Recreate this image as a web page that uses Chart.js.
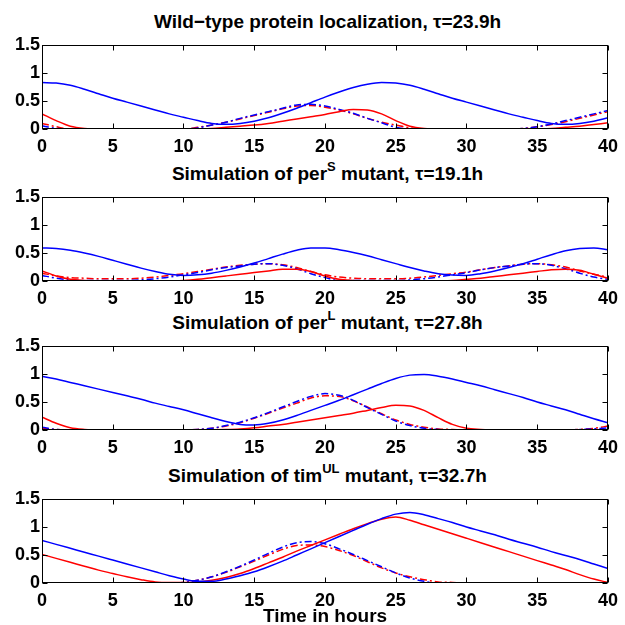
<!DOCTYPE html>
<html><head><meta charset="utf-8">
<script src="https://cdn.jsdelivr.net/npm/chart.js@4.4.1/dist/chart.umd.min.js"></script>
<style>
html,body{margin:0;padding:0;background:#fff;}
body{width:625px;height:625px;position:relative;overflow:hidden;font-family:"Liberation Sans",Arial,Helvetica,sans-serif;}
.ttl{position:absolute;left:42px;width:571px;text-align:center;font-weight:bold;font-size:19px;line-height:19px;color:#000;white-space:nowrap;}
.ttl sup{font-size:13px;line-height:0;position:relative;top:-2px;vertical-align:super;}
.box{position:absolute;left:0;width:625px;}
.box canvas{display:block;}
</style></head><body>

<div class="ttl" id="t1">Wild−type protein localization, τ=23.9h</div>
<div class="ttl" id="t2">Simulation of per<sup>S</sup> mutant, τ=19.1h</div>
<div class="ttl" id="t3">Simulation of per<sup>L</sup> mutant, τ=27.8h</div>
<div class="ttl" id="t4">Simulation of tim<sup>UL</sup> mutant, τ=32.7h</div>

<div class="box" id="b1"><canvas id="c1"></canvas></div>
<div class="box" id="b2"><canvas id="c2"></canvas></div>
<div class="box" id="b3"><canvas id="c3"></canvas></div>
<div class="box" id="b4"><canvas id="c4"></canvas></div>

<script>
// ---- data (time in hours, one value per hour) ----
const hours = [0,1,2,3,4,5,6,7,8,9,10,11,12,13,14,15,16,17,18,19,20,21,22,23,24,25,26,27,28,29,30,31,32,33,34,35,36,37,38,39,40];

const yTicks = [0, 0.5, 1, 1.5];
const yTickLabels = ['0', '0.5', '1', '1.5'];
const xTicks = [0, 5, 10, 15, 20, 25, 30, 35, 40];

// Panel 1: wild type
const wtBlue     = [0.83,0.82,0.78,0.71,0.63,0.55,0.48,0.41,0.34,0.27,0.21,0.15,0.10,0.085,0.10,0.14,0.20,0.28,0.37,0.47,0.57,0.66,0.74,0.80,0.83,0.82,0.78,0.71,0.63,0.55,0.48,0.41,0.34,0.27,0.21,0.15,0.10,0.085,0.10,0.14,0.20];
const wtRed      = [0.27,0.15,0.05,0.01,0,0,0,0,0,0,0,0,0.01,0.03,0.05,0.07,0.10,0.14,0.18,0.22,0.26,0.31,0.35,0.34,0.27,0.15,0.05,0.01,0,0,0,0,0,0,0,0,0.01,0.03,0.05,0.08,0.11];
const wtBlueDash = [0.06,0.01,0,0,0,0,0,0,0,0,0,0.02,0.07,0.12,0.19,0.25,0.31,0.37,0.43,0.44,0.41,0.35,0.28,0.19,0.11,0.03,0,0,0,0,0,0,0,0,0.01,0.04,0.09,0.15,0.21,0.27,0.33];
const wtRedDash  = [0.10,0.04,0,0,0,0,0,0,0,0,0,0.03,0.07,0.12,0.18,0.24,0.30,0.36,0.41,0.42,0.39,0.34,0.27,0.19,0.12,0.07,0.02,0,0,0,0,0,0,0,0.01,0.04,0.08,0.13,0.19,0.25,0.31];

// Panel 2: per^S
const psBlue     = [0.59,0.58,0.55,0.50,0.44,0.37,0.30,0.23,0.17,0.12,0.10,0.11,0.14,0.19,0.25,0.32,0.40,0.48,0.55,0.59,0.59,0.56,0.51,0.45,0.38,0.31,0.24,0.18,0.13,0.105,0.10,0.13,0.18,0.24,0.31,0.39,0.47,0.54,0.58,0.59,0.56];
const psRed      = [0.18,0.09,0.03,0.01,0,0,0,0,0,0,0.01,0.03,0.06,0.09,0.12,0.15,0.18,0.21,0.21,0.17,0.09,0.03,0.01,0,0,0,0,0,0,0.01,0.03,0.05,0.08,0.11,0.14,0.17,0.20,0.21,0.19,0.12,0.05];
const psBlueDash = [0.10,0.05,0.02,0.01,0.01,0.01,0.01,0.02,0.04,0.07,0.11,0.15,0.20,0.24,0.27,0.30,0.31,0.28,0.22,0.13,0.06,0.01,0.01,0.01,0.01,0.01,0.02,0.04,0.07,0.11,0.15,0.20,0.24,0.27,0.30,0.31,0.28,0.22,0.14,0.07,0.03];
const psRedDash  = [0.14,0.09,0.06,0.05,0.04,0.04,0.04,0.05,0.07,0.10,0.13,0.17,0.21,0.25,0.28,0.30,0.31,0.29,0.24,0.17,0.11,0.07,0.05,0.04,0.04,0.04,0.05,0.07,0.10,0.13,0.16,0.20,0.24,0.27,0.30,0.31,0.29,0.25,0.18,0.12,0.07];

// Panel 3: per^L
const plBlue     = [0.96,0.91,0.85,0.79,0.73,0.67,0.61,0.55,0.48,0.42,0.36,0.29,0.22,0.15,0.10,0.09,0.12,0.18,0.26,0.35,0.44,0.53,0.63,0.73,0.83,0.92,0.98,0.99,0.96,0.91,0.85,0.79,0.72,0.65,0.58,0.50,0.43,0.36,0.28,0.20,0.13];
const plRed      = [0.23,0.12,0.04,0.01,0,0,0,0,0,0,0,0,0.005,0.01,0.02,0.04,0.07,0.10,0.14,0.18,0.22,0.26,0.30,0.35,0.40,0.44,0.43,0.35,0.22,0.10,0.03,0.01,0,0,0,0,0,0,0,0,0];
const plBlueDash = [0.05,0.01,0,0,0,0,0,0,0,0,0,0.01,0.03,0.08,0.14,0.22,0.31,0.41,0.51,0.60,0.65,0.62,0.53,0.40,0.28,0.16,0.08,0.03,0.01,0,0,0,0,0,0,0,0,0,0.01,0.02,0.04];
const plRedDash  = [0.03,0.01,0,0,0,0,0,0,0,0,0,0.01,0.03,0.07,0.13,0.21,0.30,0.39,0.48,0.57,0.61,0.60,0.52,0.41,0.29,0.18,0.10,0.05,0.02,0.01,0,0,0,0,0,0,0,0,0.01,0.03,0.07];

// Panel 4: tim^UL
const tuBlue     = [0.76,0.69,0.62,0.55,0.48,0.41,0.34,0.27,0.20,0.13,0.07,0.03,0.03,0.07,0.13,0.20,0.29,0.39,0.50,0.61,0.72,0.83,0.94,1.05,1.15,1.23,1.26,1.22,1.15,1.08,1.00,0.93,0.86,0.78,0.71,0.64,0.56,0.49,0.42,0.34,0.26];
const tuRed      = [0.51,0.44,0.37,0.30,0.23,0.17,0.11,0.06,0.02,0.01,0.01,0.02,0.05,0.10,0.17,0.26,0.36,0.46,0.57,0.67,0.77,0.87,0.97,1.06,1.14,1.18,1.12,1.04,0.96,0.88,0.80,0.72,0.64,0.56,0.48,0.40,0.32,0.24,0.15,0.07,0.01];
const tuBlueDash = [0,0,0,0,0,0,0,0,0,0,0.01,0.05,0.11,0.20,0.30,0.41,0.53,0.64,0.72,0.74,0.70,0.61,0.51,0.40,0.29,0.18,0.09,0.03,0,0,0,0,0,0,0,0,0,0,0,0,0];
const tuRedDash  = [0,0,0,0,0,0,0,0,0,0,0.01,0.05,0.11,0.19,0.29,0.39,0.50,0.60,0.67,0.68,0.65,0.58,0.49,0.38,0.27,0.18,0.11,0.06,0.02,0.01,0,0,0,0,0,0,0,0,0,0,0];

const panels = [
  {id:'c1', box:'b1', title:'t1', top:45, series:[wtBlue, wtRed, wtBlueDash, wtRedDash], last:false},
  {id:'c2', box:'b2', title:'t2', top:197, series:[psBlue, psRed, psBlueDash, psRedDash], last:false},
  {id:'c3', box:'b3', title:'t3', top:346, series:[plBlue, plRed, plBlueDash, plRedDash], last:false},
  {id:'c4', box:'b4', title:'t4', top:499, series:[tuBlue, tuRed, tuBlueDash, tuRedDash], last:true}
];
const seriesNames = ['blue solid','red solid','blue dash-dot','red dash-dot'];

// ---- layout / style ----
const PLOT_H = 84, PAD_T = 15, XAX_H = 30, XAX_H_LAST = 45, Y_W = 42, PAD_R = 12;
const BLUE = '#0000ff', RED = '#ff0000';
const styles = [
  {c:BLUE, dash:[]},
  {c:RED, dash:[]},
  {c:BLUE, dash:[7,3,2,3]},
  {c:RED, dash:[7,3,2,3]}
];
const FONT = '"Liberation Sans", Arial, Helvetica, sans-serif';

const framePlugin = {
  id: 'frame',
  afterDraw(chart) {
    const {ctx, chartArea: a, scales} = chart;
    const x = scales.x, y = scales.y;
    ctx.save();
    ctx.strokeStyle = '#000';
    ctx.lineWidth = 1;
    const L = Math.round(a.left) + 0.5, R = Math.round(a.right) - 0.5;
    const T = Math.round(a.top) + 0.5, B = Math.round(a.bottom) - 0.5;
    ctx.strokeRect(L, T, R - L, B - T);
    ctx.beginPath();
    x.ticks.forEach(t => {
      const px = Math.round(x.getPixelForValue(t.value)) + 0.5;
      ctx.moveTo(px, B); ctx.lineTo(px, B - 5);
      ctx.moveTo(px, T); ctx.lineTo(px, T + 5);
    });
    y.ticks.forEach(t => {
      const py = Math.round(y.getPixelForValue(t.value)) + 0.5;
      ctx.moveTo(L, py); ctx.lineTo(L + 5, py);
      ctx.moveTo(R, py); ctx.lineTo(R - 5, py);
    });
    ctx.stroke();
    ctx.restore();
  }
};

panels.forEach(p => {
  const xh = p.last ? XAX_H_LAST : XAX_H;
  const h = PAD_T + PLOT_H + xh;
  const box = document.getElementById(p.box);
  box.style.top = (p.top - PAD_T) + 'px';
  box.style.height = h + 'px';
  const tt = document.getElementById(p.title);
  tt.style.top = (p.top - 33) + 'px';

  const datasets = p.series.map((vals, i) => ({
    label: seriesNames[i],
    data: vals.map((v, k) => ({x: hours[k], y: v})),
    borderColor: styles[i].c,
    borderDash: styles[i].dash,
    borderWidth: 1.5,
    pointRadius: 0,
    fill: false,
    cubicInterpolationMode: 'monotone'
  }));

  new Chart(document.getElementById(p.id), {
    type: 'line',
    data: {datasets},
    options: {
      responsive: true,
      maintainAspectRatio: false,
      animation: false,
      devicePixelRatio: 1,
      layout: {padding: {top: PAD_T, right: PAD_R, left: 0, bottom: 0}},
      plugins: {legend: {display: false}, tooltip: {enabled: false}, title: {display: false}},
      scales: {
        x: {
          type: 'linear', min: 0, max: 40,
          afterBuildTicks: s => { s.ticks = xTicks.map(v => ({value: v})); },
          grid: {display: false, drawTicks: false},
          border: {display: false},
          ticks: {color: '#000', font: {family: FONT, size: 18, weight: 'bold'}, padding: 7, maxRotation: 0, autoSkip: false},
          title: {display: p.last, text: 'Time in hours', color: '#000', font: {family: FONT, size: 19, weight: 'bold'}, padding: 0},
          afterFit: s => { s.height = xh; }
        },
        y: {
          type: 'linear', min: 0, max: 1.5,
          afterBuildTicks: s => { s.ticks = yTicks.map(v => ({value: v})); },
          grid: {display: false, drawTicks: false},
          border: {display: false},
          ticks: {color: '#000', font: {family: FONT, size: 18, weight: 'bold'}, padding: 2,
                  callback: v => { const i = yTicks.indexOf(v); return i >= 0 ? yTickLabels[i] : ''; }},
          afterFit: s => { s.width = Y_W; }
        }
      }
    },
    plugins: [framePlugin]
  });
});
</script>
</body></html>
